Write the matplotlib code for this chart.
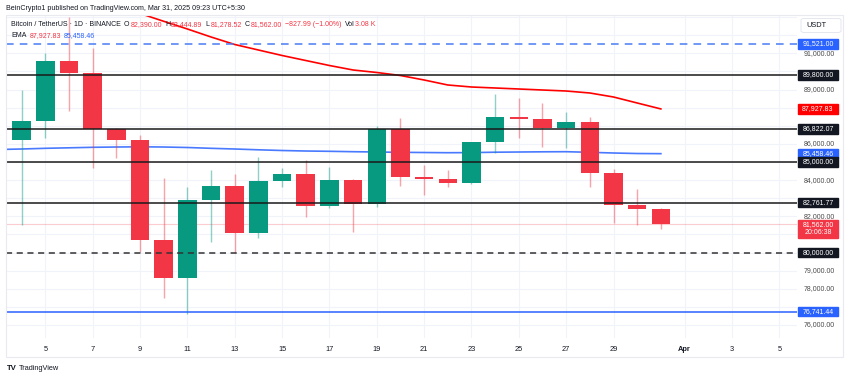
import matplotlib.pyplot as plt
from matplotlib.patches import Rectangle, FancyBboxPatch
from matplotlib.transforms import blended_transform_factory

plt.rcParams['font.family'] = ['Liberation Sans', 'DejaVu Sans']

# daily candles, March 2025 (day of month)
days = list(range(4, 32))
opens = [86213, 87262, 90591, 89912, 86803, 86213, 80691, 78576, 82900, 83672,
         81094, 83949, 84319, 82568, 84004, 82679, 86803, 84186, 84059, 83822,
         86086, 87466, 87356, 86892, 87223, 84407, 82623, 82390]
highs = [88974, 91000, 93000, 91276, 86892, 86489, 84131, 83634, 84556, 84335,
         85290, 84650, 85108, 84738, 84060, 86986, 87444, 84832, 84556, 86119,
         88736, 88515, 88239, 87742, 87499, 84595, 83524, 82444.89]
lows = [81519, 86340, 87830, 84683, 85235, 80045, 77471, 76604, 80597, 79956,
        80818, 83634, 81977, 82441, 81149, 82530, 83672, 83176, 83601, 83780,
        85511, 86306, 85843, 85787, 83601, 81646, 81519, 81278.52]
closes = [87262, 90591, 89912, 86803, 86213, 80691, 78576, 82900, 83672, 81094,
          83949, 84319, 82568, 84004, 82679, 86803, 84186, 84059, 83822, 86086,
          87466, 87356, 86892, 87223, 84407, 82623, 82390, 81562]

# EMA lines
ema_fast_days = list(range(8, 32))
ema_fast = [93670, 93198, 92767, 92342, 91900, 91486, 91182, 90879, 90602, 90326,
            90078, 89940, 89774, 89526, 89250, 89139, 89084, 89029, 88973, 88918,
            88808, 88587, 88256, 87927.83]
ema_slow_days = list(range(3, 32))
ema_slow = [85688, 85716, 85754, 85782, 85810, 85826, 85837, 85826, 85799, 85754,
            85716, 85672, 85633, 85605, 85589, 85567, 85550, 85533, 85522, 85511,
            85517, 85539, 85550, 85561, 85567, 85533, 85495, 85467, 85458.46]

# horizontal levels
levels_solid = [89800.00, 86822.07, 85000.00, 82761.77]
level_dashed = 80000.00
level_top = 91521.00
level_bottom = 76741.44
last_price = 81562.00

x_ticks = [5, 7, 9, 11, 13, 15, 17, 19, 21, 23, 25, 27, 29, 32, 34, 36]
x_labels = ['5', '7', '9', '11', '13', '15', '17', '19', '21', '23', '25', '27',
            '29', 'Apr', '3', '5']
y_ticks = list(range(76000, 92000, 1000))

GREEN = '#089981'
RED = '#F23645'
BLUE = '#2962FF'
DARK = '#131722'
W, H = 850, 378
FS = 5.0


def fx(px):
    return px / W


def fy(py):
    return 1 - py / H


fig = plt.figure(figsize=(8.5, 3.78), dpi=100)
ax = fig.add_axes([fx(6), fy(338), 791 / W, 323 / H])
ymin, ymax = 75282, 93114
ax.set_xlim(3.34, 36.75)
ax.set_ylim(ymin, ymax)
for s in ax.spines.values():
    s.set_visible(False)

ax.set_yticks(y_ticks + [92000, 93000])
ax.set_xticks(x_ticks)
ax.set_xticklabels(x_labels, fontsize=5.3, color=DARK)
ax.get_xticklabels()[13].set_fontweight('bold')
ax.tick_params(axis='x', length=0, pad=6)
ax.tick_params(axis='y', length=0, labelleft=False)
ax.grid(True, color='#f0f3fa', lw=0.8, zorder=0)
ax.set_axisbelow(True)

# EMAs under the candles
ax.plot(ema_slow_days, ema_slow, color=BLUE, lw=1.2, alpha=0.85, zorder=1)
ax.plot(ema_fast_days, ema_fast, color='#FF0000', lw=1.2, zorder=1)

# candles
for d, o, h, l, c in zip(days, opens, highs, lows, closes):
    col = GREEN if c >= o else RED
    ax.vlines(d, l, h, color=col, lw=1, alpha=0.45, zorder=2)
    ax.bar(d, abs(c - o), bottom=min(o, c), width=0.78, color=col, zorder=3)

# levels
for lv in levels_solid:
    ax.axhline(lv, color='#1a1a1a', lw=1.1, zorder=4)
ax.axhline(level_dashed, color='#333333', lw=1.1, ls=(0, (4, 3)), zorder=4)
ax.axhline(level_top, color='#4a7cf5', lw=1.1, ls=(0, (5, 4)), zorder=4)
ax.axhline(level_bottom, color=BLUE, lw=1.1, zorder=4)
ax.axhline(last_price, color=RED, lw=0.8, alpha=0.25, zorder=1)

# price scale
tr = blended_transform_factory(fig.transFigure, ax.transData)
ppu = 323 / (ymax - ymin)  # pixels per price unit
boxes = [(level_top, BLUE), (levels_solid[0], DARK), (ema_fast[-1], '#FF0000'),
         (levels_solid[1], DARK), (ema_slow[-1], BLUE),
         (levels_solid[2], DARK), (levels_solid[3], DARK),
         (level_dashed, DARK), (level_bottom, BLUE)]
covered = [p for p, _ in boxes] + [last_price - 5 / ppu]
for p in y_ticks:
    if min(abs(p - q) for q in covered) * ppu < 7.5:
        continue
    ax.text(fx(819), p, f'{p:,.2f}', transform=tr, ha='center', va='center',
            fontsize=FS, color='#4a4a4a', clip_on=False)

for p, col in boxes:
    ax.add_patch(Rectangle((fx(798), p - 4.8 / ppu), 40 / W, 9.6 / ppu,
                           transform=tr, color=col, clip_on=False, zorder=6))
    ax.text(fx(818), p, f'{p:,.2f}', transform=tr, ha='center', va='center',
            fontsize=FS, color='white', clip_on=False, zorder=7)
# last price with countdown
ax.add_patch(Rectangle((fx(798), last_price - 13.5 / ppu), 40 / W, 18 / ppu,
                       transform=tr, color=RED, clip_on=False, zorder=6))
ax.text(fx(818), last_price, f'{last_price:,.2f}', transform=tr, ha='center',
        va='center', fontsize=FS, color='white', clip_on=False, zorder=7)
ax.text(fx(818), last_price - 8.5 / ppu, '20:06:38', transform=tr, ha='center',
        va='center', fontsize=FS, color='white', clip_on=False, zorder=7)

# USDT box
fig.patches.append(FancyBboxPatch((fx(801), fy(32.5)), 40 / W, 14 / H,
                                  boxstyle='round,pad=0,rounding_size=0.004',
                                  transform=fig.transFigure, facecolor='white',
                                  edgecolor='#e0e3eb', lw=0.6, zorder=8))
fig.text(fx(806), fy(25.5), 'USDT', fontsize=5.3, color=DARK, va='center', zorder=9)

# outer frame
fig.patches.append(Rectangle((fx(6), fy(357)), 837 / W, 342 / H, transform=fig.transFigure,
                             fill=False, edgecolor='#e8eaf0', lw=0.8))

# header and legend
fig.text(fx(6), fy(8), 'BeinCrypto1 published on TradingView.com, Mar 31, 2025 09:23 UTC+5:30',
         fontsize=5.1, color=DARK, va='center')

line1 = [('Bitcoin / TetherUS · 1D · BINANCE', DARK, 0), ('O', DARK, 3), ('82,390.00', RED, 1),
         ('H', DARK, 3), ('82,444.89', RED, 1), ('L', DARK, 3), ('81,278.52', RED, 1),
         ('C', DARK, 3), ('81,562.00', RED, 1), ('−827.99 (−1.00%)', RED, 3),
         ('Vol', DARK, 3), ('3.08 K', RED, 1)]
line2 = [('EMA', DARK, 0), (f'{ema_fast[-1]:,.2f}', RED, 3), (f'{ema_slow[-1]:,.2f}', BLUE, 3)]

renderer = fig.canvas.get_renderer()
for parts, ypx in [(line1, 26.5), (line2, 37)]:
    xpx = 11
    for txt, col, gap in parts:
        xpx += gap
        t = fig.text(fx(xpx), fy(ypx), txt, fontsize=FS, color=col, va='baseline')
        xpx = t.get_window_extent(renderer).x1

# footer logo
fig.text(fx(7), fy(368), 'TV', fontsize=5.6, fontweight='bold', color=DARK, va='center')
fig.text(fx(19), fy(368), 'TradingView', fontsize=5.3, color=DARK, va='center')

fig.savefig('out.png', dpi=100)
